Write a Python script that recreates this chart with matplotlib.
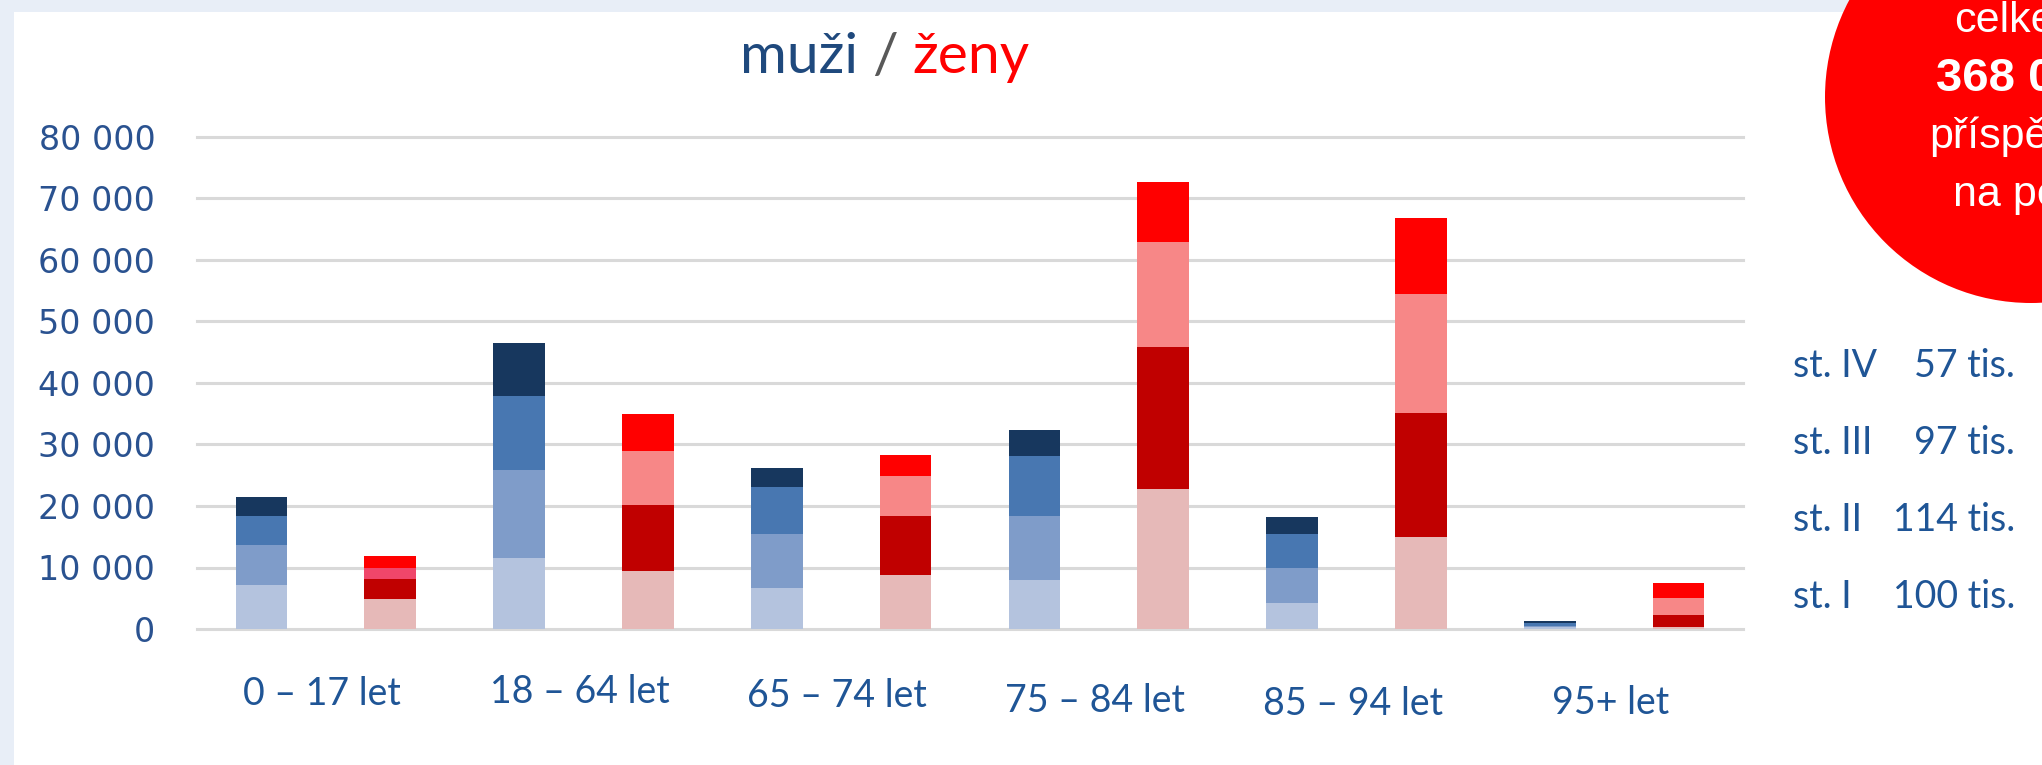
import matplotlib
matplotlib.use("Agg")
import matplotlib.pyplot as plt
from matplotlib.patches import Rectangle, Ellipse
import numpy as np

# age groups and numbers of recipients per stage (st. I .. st. IV)
groups = ["0 – 17 let", "18 – 64 let", "65 – 74 let", "75 – 84 let", "85 – 94 let", "95+ let"]
muzi_st1 = [7200, 11600, 6700, 7900, 4200, 250]
muzi_st2 = [6400, 14200, 8800, 10500, 5700, 300]
muzi_st3 = [4700, 12100, 7600, 9700, 5600, 500]
muzi_st4 = [3200, 8600, 3000, 4300, 2700, 200]
zeny_st1 = [4800, 9350, 8800, 22700, 14900, 300]
zeny_st2 = [3250, 10850, 9500, 23100, 20200, 2050]
zeny_st3 = [1900, 8800, 6600, 17200, 19300, 2650]
zeny_st4 = [1900, 5900, 3400, 9700, 12400, 2500]

stages = ["st. IV", "st. III", "st. II", "st. I"]
stage_totals = [57, 97, 114, 100]
yticks = [0, 10000, 20000, 30000, 40000, 50000, 60000, 70000, 80000]

W, H = 2042, 765
def fx(px):
    return px / W
def fy(py):
    return 1 - py / H

blue = ["#B4C3DE", "#7F9CC9", "#4877B1", "#17375E"]
red = ["#E6B9B8", "#C00000", "#F78787", "#FF0000"]
navy_txt = "#1F5596"

fig = plt.figure(figsize=(W / 100, H / 100), dpi=100, facecolor="#E8EEF7")
fig.add_artist(Rectangle((fx(14), 0), 1, fy(12), transform=fig.transFigure,
                         facecolor="white", edgecolor="none", zorder=-10))

ax = fig.add_axes([fx(197), fy(629), (1743 - 197) / W, (629 - 137) / H])
ax.set_facecolor("none")

x = np.arange(len(groups))
xm = 2 * x
xz = 2 * x + 1
bw = 0.4
muzi = [muzi_st1, muzi_st2, muzi_st3, muzi_st4]
zeny = [zeny_st1, zeny_st2, zeny_st3, zeny_st4]
bottom_m = np.zeros(len(groups))
bottom_z = np.zeros(len(groups))
for k in range(4):
    ax.bar(xm, muzi[k], bw, bottom=bottom_m, color=blue[k], zorder=3)
    cols = [red[k]] * len(groups)
    if k == 2:
        cols[0] = "#F0466A"  # odd pink in the first bar
    ax.bar(xz, zeny[k], bw, bottom=bottom_z, color=cols, zorder=3)
    bottom_m += np.array(muzi[k])
    bottom_z += np.array(zeny[k])

ax.set_xlim(-0.5, 11.5)
ax.set_ylim(0, 80000)
ax.set_yticks(yticks)
ax.set_yticklabels([f"{v:,}".replace(",", " ") for v in yticks])
ax.tick_params(axis="y", length=0, pad=30, labelsize=24, labelcolor="#2A5290")
ax.set_xticks([])
for s in ax.spines.values():
    s.set_visible(False)
ax.yaxis.grid(True, color="#D9D9D9", linewidth=2.2, zorder=0)
for gl in ax.get_ygridlines():
    gl.set_clip_on(False)
ax.set_axisbelow(True)

# group labels under each pair of bars
label_base = [705, 703, 707, 712, 715, 714]
for i, g in enumerate(groups):
    cx = ax.transData.transform((2 * i + 0.5, 0))[0]
    fig.text(fx(cx - 4), fy(label_base[i]), g, ha="center", va="baseline",
             fontsize=27, family="Lato", color=navy_txt)

# title in two colours
r = fig.canvas.get_renderer()
tx = 740
for txt, col in [("muži", "#1F497D"), ("/", "#595959"), ("ženy", "#FF0000")]:
    t = fig.text(fx(tx), fy(73), txt, ha="left", va="baseline", fontsize=41,
                 family="Lato", color=col)
    bb = t.get_window_extent(renderer=r)
    tx = bb.x1 + 14

# stage totals on the right
for i, (s, v) in enumerate(zip(stages, stage_totals)):
    yb = 377 + 77 * i
    fig.text(fx(1793), fy(yb), s, ha="left", va="baseline", fontsize=27,
             family="Lato", color=navy_txt)
    fig.text(fx(2015), fy(yb), f"{v} tis.", ha="right", va="baseline",
             fontsize=27, family="Lato", color=navy_txt)

# red circle in the corner
fig.add_artist(Ellipse((fx(2031), fy(97)), 2 * 206 / W, 2 * 206 / H,
                       transform=fig.transFigure, facecolor="#FF0000",
                       edgecolor="none", zorder=5))
for txt, yb, wt, fs in [("celkem", 32, "normal", 31), ("368 000", 91, "bold", 34),
                        ("příspěvků", 148, "normal", 31), ("na péči", 206, "normal", 31)]:
    fig.text(fx(2022), fy(yb), txt, ha="center", va="baseline", fontsize=fs,
             fontweight=wt, family="Liberation Sans", color="white", zorder=6)

fig.savefig("out.png", dpi=100, facecolor=fig.get_facecolor())
